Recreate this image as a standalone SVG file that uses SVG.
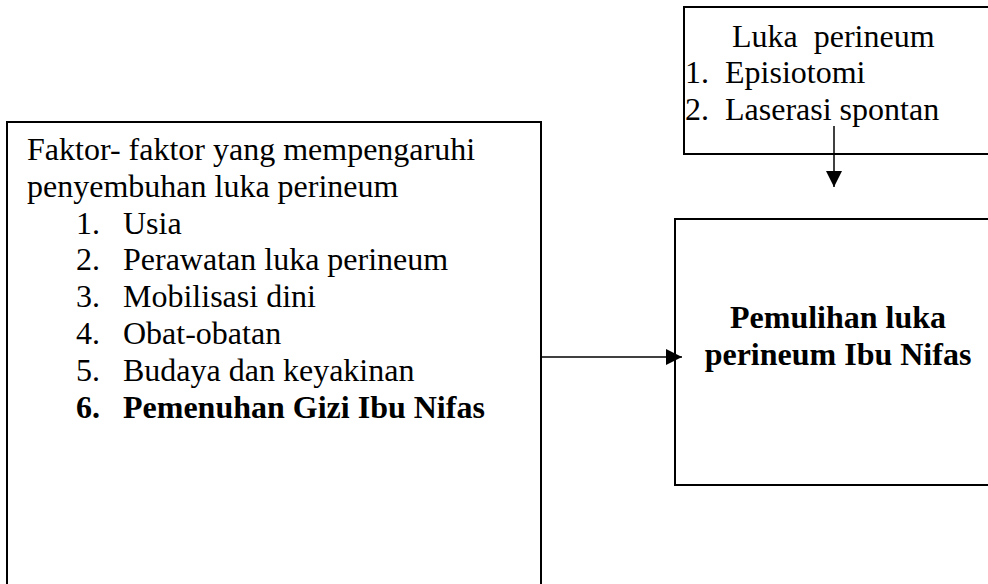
<svg xmlns="http://www.w3.org/2000/svg" width="988" height="584" viewBox="0 0 988 584">
  <defs>
    <style>
      .box { fill: #ffffff; stroke: #000000; stroke-width: 2; }
      .t { font-family: "Liberation Serif", "Times New Roman", serif; font-size: 32px; fill: #000000; }
      .b { font-weight: bold; }
      .conn { stroke: #000000; stroke-width: 1.5; fill: none; }
    </style>
    <marker id="arrow" markerUnits="userSpaceOnUse" markerWidth="17" markerHeight="16" refX="16" refY="8" orient="auto">
      <path d="M0,0 L16,8 L0,16 Z" fill="#000000"/>
    </marker>
  </defs>
  <rect width="988" height="584" fill="#ffffff"/>

  <g id="node-luka-perineum">
    <rect class="box" x="684" y="7" width="320" height="147"/>
    <text class="t" x="732" y="47" xml:space="preserve">Luka  perineum</text>
    <text class="t" x="685" y="83">1.</text>
    <text class="t" x="725" y="83">Episiotomi</text>
    <text class="t" x="685" y="120">2.</text>
    <text class="t" x="725" y="120">Laserasi spontan</text>
  </g>

  <g id="node-faktor">
    <rect class="box" x="7" y="122" width="534" height="480"/>
    <text class="t" x="27" y="160">Faktor- faktor yang mempengaruhi</text>
    <text class="t" x="27" y="197">penyembuhan luka perineum</text>
    <text class="t" x="76" y="234">1.</text>
    <text class="t" x="123" y="234">Usia</text>
    <text class="t" x="76" y="270">2.</text>
    <text class="t" x="123" y="270">Perawatan luka perineum</text>
    <text class="t" x="76" y="307">3.</text>
    <text class="t" x="123" y="307">Mobilisasi dini</text>
    <text class="t" x="76" y="344">4.</text>
    <text class="t" x="123" y="344">Obat-obatan</text>
    <text class="t" x="76" y="381">5.</text>
    <text class="t" x="123" y="381">Budaya dan keyakinan</text>
    <text class="t b" x="76" y="418">6.</text>
    <text class="t b" x="123" y="418">Pemenuhan Gizi Ibu Nifas</text>
  </g>

  <g id="node-pemulihan">
    <rect class="box" x="675" y="219" width="330" height="266"/>
    <text class="t b" x="838" y="328" text-anchor="middle">Pemulihan luka</text>
    <text class="t b" x="838" y="365" text-anchor="middle">perineum Ibu Nifas</text>
  </g>

  <g id="connectors">
    <line class="conn" x1="541" y1="357" x2="682" y2="357" marker-end="url(#arrow)"/>
    <line class="conn" x1="834" y1="126" x2="834" y2="187" marker-end="url(#arrow)"/>
  </g>
</svg>
